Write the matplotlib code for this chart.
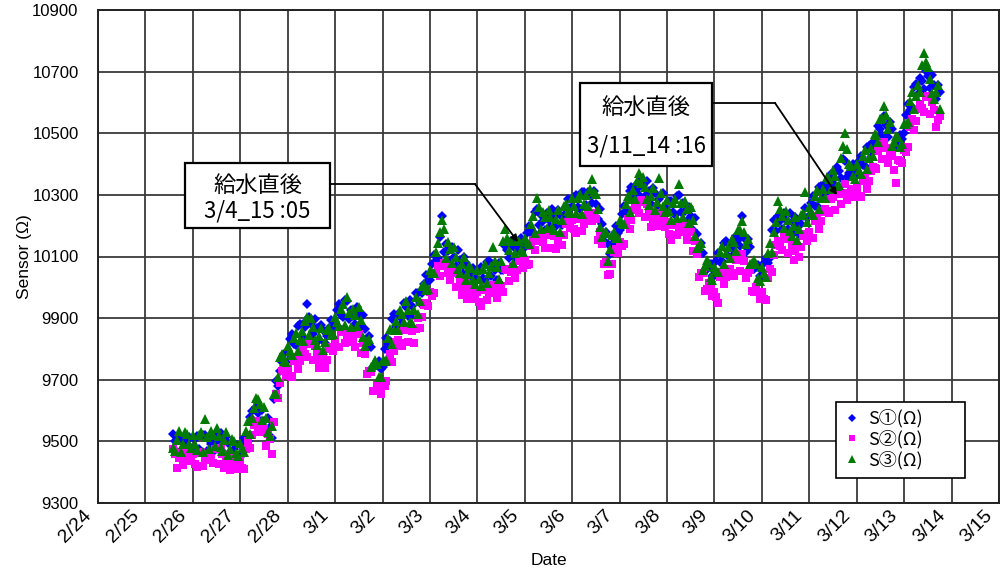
import matplotlib
matplotlib.use("Agg")
import matplotlib.pyplot as plt
import matplotlib.dates as mdates
import matplotlib.transforms as mtransforms
from matplotlib.patches import Rectangle
import pandas as pd

# Hourly readings starting 2/25 14:00 (one row per day)
START = "2015-02-25 14:00"
STEP = "1h"

s1 = [
    9525, 9500, 9465, 9520, 9505, 9462, 9485, 9500, 9515, 9477,
    9475, 9508, 9517, 9476, 9465, 9520, 9520, 9470, 9505, 9490, 9465, 9520, 9500, 9473, 9527, 9500, 9463, 9514, 9495, 9446, 9463, 9475, 9488, 9451,
    9450, 9492, 9510, 9490, 9500, 9578, 9600, 9563, 9610, 9593, 9565, 9603, 9565, 9530, 9575, 9548, 9510, 9638, 9695, 9680, 9730, 9757, 9785, 9757,
    9790, 9833, 9850, 9817, 9813, 9874, 9880, 9838, 9880, 9870, 9945, 9904, 9882, 9850, 9898, 9868, 9828, 9879, 9860, 9819, 9843, 9869, 9895, 9872,
    9884, 9927, 9945, 9910, 9905, 9958, 9956, 9898, 9925, 9908, 9880, 9935, 9915, 9873, 9910, 9865, 9810, 9843, 9806, 9743, 9745, 9752, 9760, 9734,
    9743, 9801, 9835, 9815, 9825, 9897, 9913, 9872, 9915, 9905, 9885, 9948, 9936, 9907, 9958, 9939, 9910, 9980, 9980, 9949, 9983, 10012, 10040, 10020,
    10025, 10077, 10105, 10085, 10095, 10163, 10230, 10115, 10140, 10118, 10085, 10130, 10100, 10070, 10120, 10090, 10050, 10100, 10080, 10027, 10040, 10052, 10063, 10026,
    10025, 10057, 10065, 10030, 10025, 10083, 10085, 10038, 10077, 10056, 10025, 10078, 10055, 10055, 10135, 10120, 10095, 10150, 10135, 10095, 10120, 10140, 10160, 10128,
    10130, 10177, 10200, 10175, 10180, 10245, 10255, 10202, 10235, 10216, 10187, 10241, 10220, 10197, 10255, 10231, 10198, 10251, 10235, 10203, 10235, 10261, 10287, 10256,
    10260, 10293, 10300, 10261, 10253, 10309, 10310, 10268, 10310, 10298, 10275, 10311, 10272, 10223, 10255, 10207, 10150, 10181, 10142, 10109, 10140, 10170, 10200, 10176,
    10187, 10239, 10265, 10241, 10247, 10313, 10325, 10285, 10330, 10320, 10300, 10352, 10328, 10297, 10345, 10313, 10272, 10323, 10305, 10263, 10287, 10296, 10305, 10261,
    10252, 10279, 10280, 10243, 10235, 10295, 10300, 10244, 10273, 10249, 10215, 10260, 10230, 10187, 10225, 10173, 10110, 10145, 10110, 10053, 10060, 10068, 10075, 10038,
    10036, 10085, 10110, 10083, 10085, 10145, 10150, 10102, 10140, 10128, 10107, 10168, 10155, 10133, 10230, 10159, 10115, 10157, 10130, 10063, 10060, 10066, 10071, 10036,
    10036, 10078, 10095, 10080, 10095, 10185, 10220, 10182, 10230, 10215, 10190, 10242, 10218, 10190, 10242, 10213, 10175, 10227, 10208, 10174, 10205, 10231, 10257, 10226,
    10230, 10275, 10295, 10265, 10265, 10325, 10330, 10290, 10335, 10328, 10310, 10368, 10352, 10331, 10390, 10377, 10355, 10417, 10410, 10357, 10370, 10385, 10400, 10368,
    10371, 10411, 10427, 10396, 10395, 10455, 10460, 10422, 10470, 10468, 10455, 10522, 10515, 10495, 10556, 10527, 10488, 10537, 10515, 10455, 10460, 10478, 10495, 10480,
    10500, 10560, 10595, 10575, 10585, 10650, 10660, 10628, 10680, 10668, 10645, 10702, 10685, 10647, 10690, 10655, 10610, 10657, 10635,
]

s2 = [
    9475, 9460, 9415, 9445, 9465, 9422, 9445, 9470, 9465, 9437,
    9460, 9428, 9417, 9461, 9465, 9420, 9440, 9460, 9460, 9445, 9430, 9475, 9475, 9428, 9477, 9460, 9413, 9439, 9455, 9406, 9423, 9445, 9438, 9411,
    9435, 9412, 9410, 9475, 9500, 9478, 9520, 9553, 9565, 9548, 9530, 9558, 9540, 9485, 9525, 9508, 9460, 9563, 9655, 9640, 9690, 9727, 9735, 9717,
    9735, 9713, 9710, 9762, 9773, 9734, 9760, 9788, 9795, 9785, 9775, 9819, 9817, 9765, 9808, 9788, 9738, 9764, 9780, 9739, 9763, 9799, 9805, 9792,
    9829, 9807, 9805, 9855, 9865, 9818, 9836, 9848, 9840, 9823, 9805, 9850, 9850, 9788, 9820, 9785, 9720, 9728, 9726, 9663, 9665, 9682, 9670, 9654,
    9688, 9681, 9695, 9760, 9785, 9757, 9793, 9822, 9830, 9820, 9810, 9863, 9871, 9822, 9868, 9859, 9820, 9865, 9900, 9869, 9903, 9942, 9950, 9940,
    9985, 9972, 9980, 10045, 10070, 10038, 10070, 10080, 10070, 10048, 10025, 10060, 10050, 10000, 10045, 10025, 9975, 10000, 10015, 9962, 9975, 9997, 9988, 9961,
    9985, 9952, 9940, 9990, 10000, 9958, 9980, 10003, 10007, 9986, 9965, 10008, 10005, 9985, 10060, 10055, 10020, 10050, 10070, 10030, 10055, 10085, 10085, 10063,
    10090, 10072, 10075, 10135, 10155, 10120, 10150, 10167, 10165, 10146, 10127, 10171, 10170, 10127, 10180, 10166, 10123, 10151, 10170, 10138, 10170, 10206, 10212, 10191,
    10220, 10188, 10175, 10221, 10228, 10184, 10205, 10233, 10240, 10228, 10215, 10241, 10222, 10153, 10180, 10142, 10075, 10081, 10040, 10044, 10075, 10115, 10125, 10111,
    10147, 10134, 10140, 10201, 10222, 10188, 10220, 10250, 10260, 10250, 10240, 10282, 10278, 10227, 10270, 10248, 10197, 10223, 10240, 10198, 10222, 10241, 10230, 10196,
    10212, 10174, 10155, 10203, 10210, 10170, 10195, 10209, 10203, 10179, 10155, 10190, 10180, 10117, 10150, 10108, 10035, 10045, 10045, 9988, 9995, 10013, 10000, 9973,
    9986, 9970, 9950, 10033, 10050, 10010, 10035, 10057, 10060, 10048, 10037, 10088, 10095, 10053, 10107, 10084, 10030, 10047, 10055, 9988, 9985, 10001, 9986, 9961,
    9986, 9963, 9960, 10030, 10060, 10050, 10105, 10137, 10150, 10135, 10120, 10162, 10158, 10110, 10157, 10138, 10090, 10117, 10133, 10099, 10130, 10166, 10172, 10151,
    10180, 10160, 10160, 10215, 10230, 10190, 10215, 10245, 10255, 10248, 10240, 10288, 10292, 10251, 10305, 10302, 10270, 10307, 10335, 10282, 10295, 10320, 10315, 10293,
    10321, 10296, 10292, 10346, 10360, 10320, 10345, 10377, 10390, 10388, 10385, 10442, 10455, 10415, 10471, 10452, 10403, 10427, 10440, 10380, 10340, 10413, 10410, 10405,
    10445, 10440, 10455, 10520, 10545, 10510, 10540, 10578, 10595, 10583, 10570, 10617, 10620, 10562, 10600, 10575, 10520, 10542, 10555,
]

s3 = [
    9480, 9470, 9505, 9535, 9465, 9492, 9530, 9525, 9490, 9477,
    9520, 9493, 9472, 9521, 9530, 9465, 9572, 9515, 9475, 9535, 9520, 9485, 9545, 9518, 9482, 9470, 9503, 9529, 9455, 9476, 9508, 9500, 9463, 9451,
    9495, 9477, 9465, 9535, 9565, 9523, 9575, 9608, 9640, 9638, 9620, 9568, 9610, 9575, 9530, 9518, 9550, 9653, 9655, 9710, 9775, 9782, 9760, 9757,
    9810, 9793, 9780, 9837, 9853, 9794, 9830, 9858, 9825, 9890, 9905, 9844, 9902, 9870, 9828, 9813, 9843, 9869, 9795, 9824, 9863, 9869, 9845, 9847,
    9904, 9887, 9875, 9930, 9945, 9878, 9970, 9918, 9870, 9928, 9910, 9875, 9935, 9893, 9840, 9810, 9825, 9833, 9741, 9748, 9765, 9752, 9710, 9709,
    9763, 9761, 9765, 9835, 9865, 9817, 9863, 9892, 9860, 9925, 9915, 9888, 9956, 9927, 9888, 9884, 9925, 9970, 9915, 9954, 10003, 10012, 9990, 9995,
    10055, 10047, 10045, 10115, 10145, 10180, 10220, 10190, 10095, 10148, 10125, 10080, 10130, 10100, 10060, 10045, 10075, 10100, 10025, 10042, 10070, 10062, 10023, 10011,
    10055, 10027, 10005, 10060, 10075, 10013, 10045, 10068, 10130, 10086, 10065, 10028, 10085, 10150, 10190, 10160, 10120, 10150, 10080, 10110, 10150, 10150, 10120, 10113,
    10160, 10147, 10140, 10205, 10230, 10175, 10290, 10260, 10190, 10246, 10227, 10191, 10250, 10227, 10195, 10186, 10223, 10251, 10180, 10218, 10265, 10271, 10247, 10241,
    10290, 10263, 10240, 10291, 10303, 10239, 10270, 10298, 10265, 10320, 10350, 10310, 10302, 10253, 10195, 10162, 10175, 10181, 10087, 10124, 10170, 10180, 10160, 10161,
    10217, 10209, 10205, 10271, 10297, 10243, 10285, 10315, 10285, 10345, 10370, 10340, 10358, 10327, 10285, 10268, 10297, 10323, 10250, 10278, 10355, 10306, 10265, 10246,
    10282, 10249, 10220, 10273, 10285, 10225, 10335, 10274, 10228, 10279, 10255, 10210, 10260, 10217, 10165, 10128, 10135, 10145, 10055, 10068, 10090, 10078, 10035, 10023,
    10066, 10055, 10050, 10113, 10135, 10075, 10110, 10132, 10095, 10158, 10147, 10118, 10185, 10185, 10215, 10180, 10140, 10157, 10075, 10078, 10090, 10076, 10031, 10021,
    10066, 10048, 10035, 10110, 10145, 10115, 10180, 10212, 10280, 10255, 10230, 10192, 10248, 10220, 10182, 10168, 10200, 10227, 10153, 10189, 10235, 10241, 10310, 10211,
    10260, 10245, 10235, 10295, 10315, 10255, 10290, 10320, 10290, 10358, 10350, 10318, 10382, 10361, 10330, 10332, 10420, 10460, 10500, 10450, 10400, 10395, 10360, 10353,
    10401, 10381, 10367, 10426, 10445, 10385, 10420, 10452, 10425, 10498, 10495, 10472, 10545, 10550, 10590, 10560, 10513, 10537, 10460, 10470, 10490, 10488, 10455, 10465,
    10530, 10530, 10535, 10605, 10635, 10580, 10620, 10658, 10635, 10720, 10760, 10730, 10715, 10677, 10630, 10610, 10635, 10657, 10580,
]

series_labels = ["S①(Ω)", "S②(Ω)", "S③(Ω)"]
x_first, x_last = "2015-02-24", "2015-03-15"
y_ticks = [9300, 9500, 9700, 9900, 10100, 10300, 10500, 10700, 10900]
note_texts = ["給水直後\n3/4_15 :05", "給水直後\n3/11_14 :16"]

NARROW = ["Liberation Sans", "DejaVu Sans"]
CJK = ["Noto Sans CJK JP", "DejaVu Sans"]

fig = plt.figure(figsize=(10.01, 5.74), dpi=100)
ax = fig.add_axes([98 / 1001, 71 / 574, 901 / 1001, 493 / 574])

styles = [
    dict(marker="D", color="#0000FF", ms=5.0),
    dict(marker="s", color="#FF00FF", ms=5.2),
    dict(marker="^", color="#007A00", ms=7.4),
]
handles = []
for vals, st, lab in zip([s1, s2, s3], styles, series_labels):
    t = pd.date_range(START, periods=len(vals), freq=STEP)
    h, = ax.plot(t, vals, linestyle="none", marker=st["marker"],
                 color=st["color"], markersize=st["ms"],
                 markeredgewidth=0, label=lab, zorder=3)
    handles.append(h)

ax.set_xlim(pd.Timestamp(x_first), pd.Timestamp(x_last))
ax.set_ylim(y_ticks[0], y_ticks[-1])
ax.set_yticks(y_ticks)
ax.set_xticks(pd.date_range(x_first, x_last, freq="D"))
ax.xaxis.set_major_formatter(
    matplotlib.ticker.FuncFormatter(
        lambda v, p: f"{mdates.num2date(v).month}/{mdates.num2date(v).day}"))

ax.grid(True, color="#3a3a3a", linewidth=1.3, zorder=1)
ax.set_axisbelow(True)
for sp in ax.spines.values():
    sp.set_color("#222222")
    sp.set_linewidth(1.4)

ax.tick_params(axis="y", length=0, pad=14, labelsize=12)
ax.tick_params(axis="x", length=0, pad=7, labelsize=14)
for tl in ax.get_yticklabels():
    tl.set_fontfamily(NARROW)
shift = mtransforms.ScaledTranslation(-9 / 100, 0, fig.dpi_scale_trans)
for tl in ax.get_xticklabels():
    tl.set_fontfamily(NARROW)
    tl.set_rotation(45)
    tl.set_ha("right")
    tl.set_va("center")
    tl.set_rotation_mode("anchor")
    tl.set_transform(tl.get_transform() + shift)

ax.set_xlabel("Date", fontsize=12.5, family=NARROW)
ax.xaxis.set_label_coords(0.5, -0.101)
ax.set_ylabel("Sensor (Ω)", fontsize=12.5, family=NARROW)
ax.yaxis.set_label_coords(-0.073, 0.5)

# Legend: fixed-size frame with entries inside
lx0, ly0, lx1, ly1 = 0.819, 0.0507, 0.9623, 0.2049
ax.add_patch(Rectangle((lx0, ly0), lx1 - lx0, ly1 - ly0, transform=ax.transAxes,
                       facecolor="white", edgecolor="black", lw=1.2,
                       zorder=6))
leg = ax.legend(handles=handles, loc="upper left",
                bbox_to_anchor=(lx0 + 0.004, ly1 - 0.004), borderaxespad=0,
                frameon=False, prop={"family": CJK, "size": 13},
                handlelength=0.8, handletextpad=0.5, labelspacing=0.12,
                borderpad=0.3, markerscale=0.8)
leg.set_zorder(7)

# Callout boxes with elbow leader lines (axes-fraction layout)
callouts = [
    dict(box=(0.0966, 0.5578, 0.1609, 0.1319), y_line=0.647,
         bend=0.4184, tip=(0.4661, 0.5294), spacing=1.15, dy=-0.006),
    dict(box=(0.5350, 0.6836, 0.1465, 0.1683), y_line=0.8114,
         bend=0.7514, tip=(0.8202, 0.6247), spacing=1.85, dy=-0.004),
]
for c, txt in zip(callouts, note_texts):
    x0, y0, w, h = c["box"]
    ax.plot([x0 + w, c["bend"]], [c["y_line"], c["y_line"]], color="black",
            lw=1.3, transform=ax.transAxes, zorder=7, clip_on=False)
    ax.annotate("", xy=c["tip"], xytext=(c["bend"], c["y_line"]),
                xycoords="axes fraction", textcoords="axes fraction",
                arrowprops=dict(arrowstyle="-|>", color="black", lw=1.3,
                                mutation_scale=10, shrinkA=0, shrinkB=0),
                zorder=7)
    ax.add_patch(Rectangle((x0, y0), w, h, transform=ax.transAxes,
                           facecolor="white", edgecolor="black", lw=1.6,
                           zorder=8, clip_on=False))
    ax.text(x0 + w / 2, y0 + h / 2 + c["dy"], txt, transform=ax.transAxes,
            ha="center", va="center", fontsize=16, family=CJK,
            linespacing=c["spacing"], zorder=9)

fig.savefig("out.png", dpi=100)
